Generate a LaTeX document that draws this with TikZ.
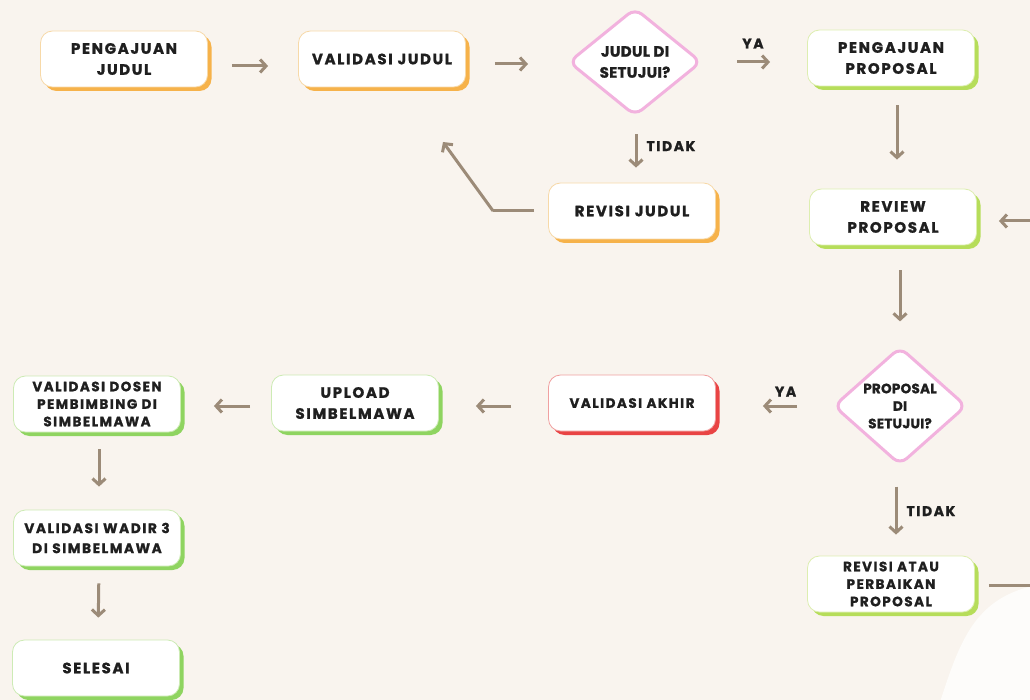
\documentclass[tikz,border=0pt]{standalone}
\usepackage{fontspec}
\setmainfont{Poppins}
\newfontfamily\boxfont{Poppins}[LetterSpace=11, BoldFeatures={FakeBold=1.2}]
\newfontfamily\dfont{Poppins}[LetterSpace=2, BoldFeatures={FakeBold=1.2}]
\usetikzlibrary{shapes.geometric,shadows,arrows.meta}
\definecolor{bg}{HTML}{F9F4EE}
\definecolor{orng}{HTML}{F6B24A}
\definecolor{orngl}{HTML}{F7D9A8}
\definecolor{grn}{HTML}{8FD460}
\definecolor{grnl}{HTML}{CDEBB5}
\definecolor{lime}{HTML}{B6DD5A}
\definecolor{limel}{HTML}{DDEEB0}
\definecolor{rd}{HTML}{E94444}
\definecolor{rdl}{HTML}{F0A0A0}
\definecolor{pnk}{HTML}{F2B2DE}
\definecolor{arrc}{HTML}{9C8B78}
\definecolor{txt}{HTML}{1F1F1F}
\tikzset{
  fbox/.style n args={2}{draw=#2, fill=white, line width=0.8pt, rounded corners=12pt,
    minimum width=167pt, minimum height=56pt, inner sep=2pt, align=center,
    text=txt, font=\boxfont\bfseries\fontsize{15}{21}\selectfont,
    drop shadow={shadow xshift=4pt, shadow yshift=-4pt, fill=#1, opacity=1}},
  sbox/.style n args={2}{fbox={#1}{#2}, font=\boxfont\bfseries\fontsize{13.5}{17.5}\selectfont},
  dec/.style={diamond, draw=pnk, fill=white, line width=3pt, rounded corners=9pt,
    minimum width=133pt, minimum height=108pt, inner sep=0pt, align=center, text=txt,
    font=\dfont\bfseries\fontsize{15}{21}\selectfont},
  arr/.style={draw=arrc, line width=3pt, -{Straight Barb[length=6pt,width=13pt,line width=3pt]}},
  lin/.style={draw=arrc, line width=3pt},
  lbl/.style={text=txt, font=\boxfont\bfseries\fontsize{14}{15}\selectfont, inner sep=0pt}
}
\begin{document}
\begin{tikzpicture}[x=1pt,y=-1pt]
\fill[bg] (0,0) rectangle (1030,700);
\useasboundingbox (0,0) rectangle (1030,700);
\fill[white!70!bg] (940,702) .. controls (960,640) and (975,600) .. (1032,586) -- (1032,702) -- cycle;

\node[fbox={orng}{orngl}] (pj) at (124,59) {PENGAJUAN\\JUDUL};
\node[fbox={orng}{orngl}] (vj) at (382,59) {VALIDASI JUDUL};
\node[dec] (d1) at (635,62) {JUDUL DI\\SETUJUI?};
\node[fbox={lime}{limel}] (pp) at (891,58) {PENGAJUAN\\PROPOSAL};
\node[fbox={orng}{orngl}] (rj) at (632,211) {REVISI JUDUL};
\node[fbox={lime}{limel}] (rp) at (893,217) {REVIEW\\PROPOSAL};
\node[dec, font=\dfont\bfseries\fontsize{13.5}{17.5}\selectfont] (d2) at (900,406) {PROPOSAL\\DI\\SETUJUI?};
\node[fbox={rd}{rdl}, font=\boxfont\bfseries\fontsize{13.5}{17}\selectfont] (va) at (632,403) {VALIDASI AKHIR};
\node[fbox={grn}{grnl}] (up) at (355,403) {UPLOAD\\SIMBELMAWA};
\node[sbox={grn}{grnl}] (vd) at (97,404) {VALIDASI DOSEN\\PEMBIMBING DI\\SIMBELMAWA};
\node[fbox={grn}{grnl}, font=\boxfont\bfseries\fontsize{13.8}{20}\selectfont] (vw) at (97,538) {VALIDASI WADIR 3\\DI SIMBELMAWA};
\node[fbox={grn}{grnl}] (sl) at (96,668) {SELESAI};
\node[sbox={lime}{limel}] (rap) at (891,584) {REVISI ATAU\\PERBAIKAN\\PROPOSAL};

\coordinate (vjin) at (443,142);
\coordinate (ra1) at (1045,585);
\coordinate (ra2) at (1045,221);

\draw[arr, shorten <=24pt, shorten >=30pt] ([yshift=-7pt]pj.east) -- ([yshift=-7pt]vj.west);
\draw[arr, shorten <=29pt, shorten >=39pt] ([yshift=-5pt]vj.east) -- ([yshift=-2pt]d1.west);
\draw[arr, shorten <=34pt, shorten >=37pt] (d1.east) -- ([yshift=-4pt]pp.west) node[lbl, pos=0.48, above=12pt] {YA};
\draw[arr, shorten <=19pt, shorten >=29pt] ([xshift=6pt]pp.south) -- ([xshift=4pt]rp.north);
\draw[arr, shorten <=17pt, shorten >=15pt] ([xshift=1pt]d1.south) -- ([xshift=4pt]rj.north) node[lbl, pos=0.44, right=9pt] {TIDAK};
\draw[lin] ([xshift=-14pt]rj.west) -- ++(-41,0) coordinate (rjk);
\draw[arr] (rjk) -- (vjin);
\draw[arr, shorten <=25pt, shorten >=24pt] ([xshift=7pt]rp.south) -- (d2.north);
\draw[arr, shorten <=35pt, shorten >=47pt] (d2.west) -- ([yshift=-3pt]va.east) node[lbl, pos=0.4, above=8pt] {YA};
\draw[arr, shorten <=20pt, shorten >=21pt] ([xshift=-4pt]d2.south) -- ([xshift=5pt]rap.north) node[lbl, pos=0.5, right=9pt] {TIDAK};
\draw[lin, shorten <=14pt] ([yshift=-1pt]rap.east) -- (ra1) -- (ra2);
\draw[arr, shorten >=22pt] (ra2) -- ([yshift=-4pt]rp.east);
\draw[arr, shorten <=37pt, shorten >=37pt] ([yshift=-3pt]va.west) -- ([yshift=-3pt]up.east);
\draw[arr, shorten <=21pt, shorten >=33pt] ([yshift=-3pt]up.west) -- ([yshift=-2pt]vd.east);
\draw[arr, shorten <=17pt, shorten >=23pt] ([xshift=2pt]vd.south) -- ([xshift=2pt]vw.north);
\draw[arr, shorten <=17pt, shorten >=22pt] ([xshift=2pt]vw.south) -- ([xshift=2pt]sl.north);
\end{tikzpicture}
\end{document}
